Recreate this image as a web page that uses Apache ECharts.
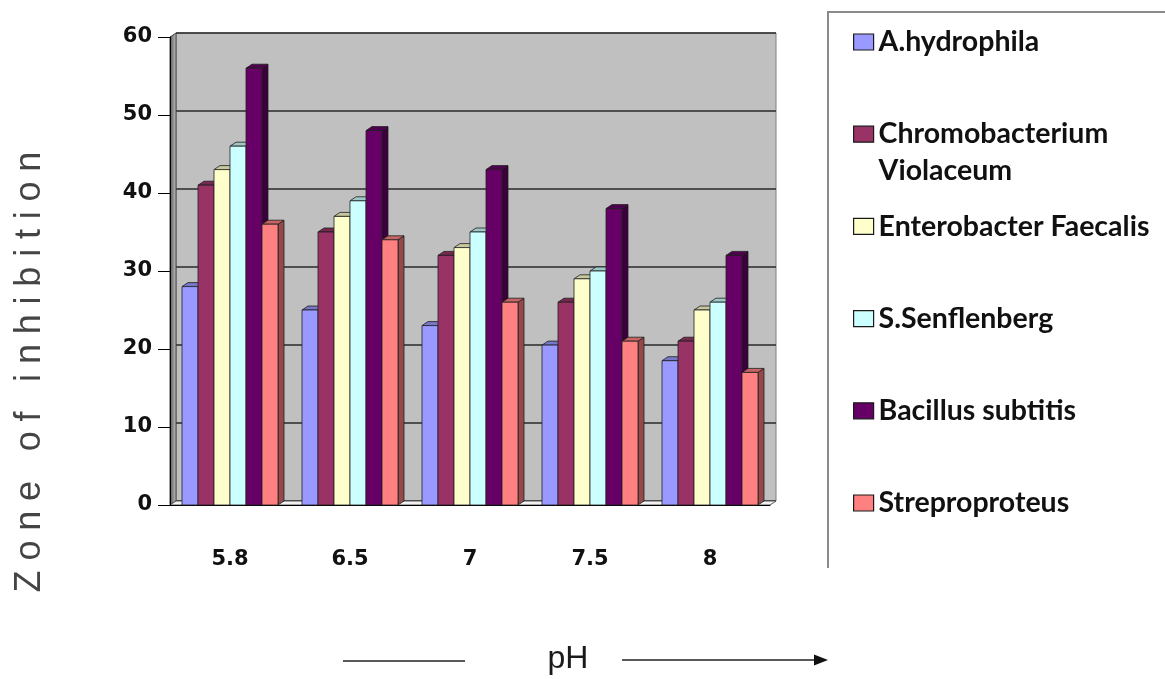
<!DOCTYPE html>
<html>
<head>
<meta charset="utf-8">
<script src="https://cdn.jsdelivr.net/npm/echarts@6/dist/echarts.min.js"></script>
<style>
  html, body { margin: 0; padding: 0; background: #ffffff; }
  #chart { width: 1165px; height: 679px; }
</style>
</head>
<body>
<div id="chart"></div>
<script>
// pH levels on the category axis
const phLevels = ['5.8', '6.5', '7', '7.5', '8'];

// organisms, one bar series each
const seriesNames = [
  'A.hydrophila',
  'Chromobacterium Violaceum',
  'Enterobacter Faecalis',
  'S.Senflenberg',
  'Bacillus subtitis',
  'Streproproteus'
];

// zone of inhibition per pH level
const aHydrophila     = [28, 25, 23, 20.5, 18.5];
const chromobacterium = [41, 35, 32, 26, 21];
const enterobacter    = [43, 37, 33, 29, 25];
const sSenflenberg    = [46, 39, 35, 30, 26];
const bacillus        = [56, 48, 43, 38, 32];
const streproproteus  = [36, 34, 26, 21, 17];

// value axis range
const yMin = 0, yMax = 60, yStep = 10;

const seriesValues = [aHydrophila, chromobacterium, enterobacter, sSenflenberg, bacillus, streproproteus];
const palette = ['#9999FF', '#993366', '#FFFFCC', '#CCFFFF', '#660066', '#FF8080'];

// front plane of the plot and the 3-D depth offset of the back wall
const FRONT = { x: 170, y: 37, w: 600, h: 468 };
const DEPTH = { dx: 6, dy: -4 };
const EDGE = '#1e1e1e';

const chart = echarts.init(document.getElementById('chart'), null, { renderer: 'canvas' });

function shade(color, amount) {
  return echarts.color.lerp(amount, [color, '#000000']);
}

// 3-D looking column: front face, top face and right side face
function columnRenderer(si) {
  const base = palette[si];
  const topFill = shade(base, 0.22);
  const sideFill = shade(base, 0.42);
  return function (params, api) {
    const ci = api.value(0);
    const v = api.value(1);
    const p0 = api.coord([ci, 0]);
    const p1 = api.coord([ci, v]);
    const band = api.size([1, 0])[0];
    const w = band * 0.8 / seriesNames.length;
    const x0 = p0[0] - w * seriesNames.length / 2 + si * w;
    const x1 = x0 + w;
    const yt = p1[1], yb = p0[1];
    const dx = DEPTH.dx, dy = DEPTH.dy;
    const line = { stroke: EDGE, lineWidth: 0.8 };
    return {
      type: 'group',
      children: [
        { type: 'polygon', shape: { points: [[x1, yb], [x1 + dx, yb + dy], [x1 + dx, yt + dy], [x1, yt]] },
          style: Object.assign({ fill: sideFill }, line) },
        { type: 'polygon', shape: { points: [[x0, yt], [x0 + dx, yt + dy], [x1 + dx, yt + dy], [x1, yt]] },
          style: Object.assign({ fill: topFill }, line) },
        { type: 'rect', shape: { x: x0, y: yt, width: w, height: yb - yt },
          style: Object.assign({ fill: base }, line) }
      ]
    };
  };
}

// axis title written upward with wide letter spacing, one glyph per text element
function spacedVerticalTitle(str, cx, cy, fontSize, family, spacing, color) {
  const ctx = document.createElement('canvas').getContext('2d');
  ctx.font = fontSize + 'px "' + family + '"';
  const chars = Array.from(str);
  const widths = chars.map(ch => ctx.measureText(ch).width);
  const total = widths.reduce((a, b) => a + b, 0) + spacing * (chars.length - 1);
  let pos = cy + total / 2;
  return chars.map((ch, i) => {
    const y = pos - widths[i] / 2;
    pos -= widths[i] + spacing;
    return {
      type: 'text', x: cx, y: y, rotation: Math.PI / 2, silent: true,
      style: { text: ch, fontSize: fontSize, fontFamily: family, fill: color, align: 'center', verticalAlign: 'middle' }
    };
  });
}

// walls of the 3-D box
const back = { x: FRONT.x + DEPTH.dx, y: FRONT.y + DEPTH.dy };
const wallGraphics = [
  { type: 'polygon', z: 1, silent: true,
    shape: { points: [[FRONT.x, FRONT.y], [back.x, back.y], [back.x, back.y + FRONT.h], [FRONT.x, FRONT.y + FRONT.h]] },
    style: { fill: new echarts.graphic.LinearGradient(0, 0, 1, 0, [
      { offset: 0, color: '#4e4e4e' }, { offset: 1, color: '#c8c8c8' }]), stroke: '#444', lineWidth: 1 } },
  { type: 'polygon', z: 1, silent: true,
    shape: { points: [[FRONT.x, FRONT.y + FRONT.h], [back.x, back.y + FRONT.h], [back.x + FRONT.w, back.y + FRONT.h], [FRONT.x + FRONT.w, FRONT.y + FRONT.h]] },
    style: { fill: '#f2f2f2', stroke: '#555', lineWidth: 1 } }
];

// legend frame
const legendFrame = {
  type: 'polyline', silent: true,
  shape: { points: [[828, 568], [828, 12], [1165, 12]] },
  style: { stroke: '#8a8a8a', lineWidth: 2, fill: null }
};

// pH caption with its arrow
const phCaption = [
  { type: 'text', x: 568, y: 659, silent: true,
    style: { text: 'pH', fontSize: 32, fontFamily: 'Liberation Sans', fill: '#1a1a1a', align: 'center', verticalAlign: 'middle' } },
  { type: 'line', silent: true, shape: { x1: 343, y1: 661, x2: 465, y2: 661 }, style: { stroke: '#222', lineWidth: 1.6 } },
  { type: 'line', silent: true, shape: { x1: 622, y1: 660, x2: 816, y2: 660 }, style: { stroke: '#222', lineWidth: 1.6 } },
  { type: 'polygon', silent: true, shape: { points: [[814, 654.5], [828, 660], [814, 665.5]] }, style: { fill: '#111' } }
];

// one legend block per organism so every entry sits on an even pitch;
// a two-word entry wraps, keeping its first line beside the swatch
const legendPitch = 92.2, legendFirst = 42, legendLine = 37;
const legends = seriesNames.map((name, i) => {
  const twoLine = name.indexOf('Chromobacterium') === 0;
  const c = legendFirst + i * legendPitch;
  return {
    data: [name],
    orient: 'vertical',
    left: 853,
    top: twoLine ? c - legendLine * 1.5 : c - legendLine / 2,
    padding: 0,
    itemWidth: 20,
    itemHeight: 16,
    icon: 'rect',
    selectedMode: false,
    itemStyle: { borderColor: '#1a1a1a', borderWidth: 1.2 },
    formatter: n => twoLine ? '\n' + n.replace(' ', '\n') : n,
    textStyle: { fontFamily: 'Lato', fontWeight: 'bold', fontSize: 28.5, lineHeight: legendLine, color: '#111' }
  };
});

const labelFont = { fontFamily: 'DejaVu Sans', fontWeight: 'bold', fontSize: 21, color: '#111' };

chart.setOption({
  animation: false,
  backgroundColor: '#ffffff',
  color: palette,
  legend: legends,
  grid: [
    { left: FRONT.x, top: FRONT.y, width: FRONT.w, height: FRONT.h },
    { left: back.x, top: back.y, width: FRONT.w, height: FRONT.h, show: true,
      backgroundColor: '#c0c0c0', borderColor: '#808080', borderWidth: 1, z: 0 }
  ],
  xAxis: [
    { type: 'category', gridIndex: 0, data: phLevels, boundaryGap: true,
      axisLine: { lineStyle: { color: '#000', width: 1 } },
      axisTick: { length: 13, lineStyle: { color: '#000' } },
      axisLabel: Object.assign({ margin: 44 }, labelFont), z: 3 },
    { type: 'category', gridIndex: 1, data: phLevels, show: false }
  ],
  yAxis: [
    { type: 'value', gridIndex: 0, min: yMin, max: yMax, interval: yStep,
      axisLine: { show: true, lineStyle: { color: '#000', width: 1 } },
      axisTick: { show: true, length: 12, lineStyle: { color: '#000' } },
      axisLabel: Object.assign({ margin: 18 }, labelFont),
      splitLine: { show: false }, z: 3 },
    { type: 'value', gridIndex: 1, min: yMin, max: yMax, interval: yStep,
      axisLine: { show: false }, axisTick: { show: false }, axisLabel: { show: false },
      splitLine: { show: true, lineStyle: { color: '#2a2a2a', width: 1.6 } } }
  ],
  graphic: wallGraphics
    .concat([legendFrame])
    .concat(phCaption)
    .concat(spacedVerticalTitle('Zone of inhibition', 30, 372, 36, 'Liberation Sans', 9.8, '#444444')),
  series: seriesNames.map((name, si) => ({
    name: name,
    type: 'custom',
    xAxisIndex: 0,
    yAxisIndex: 0,
    z: 5,
    itemStyle: { color: palette[si] },
    renderItem: columnRenderer(si),
    encode: { x: 0, y: 1 },
    data: seriesValues[si].map((v, ci) => [ci, v])
  }))
});
</script>
</body>
</html>
